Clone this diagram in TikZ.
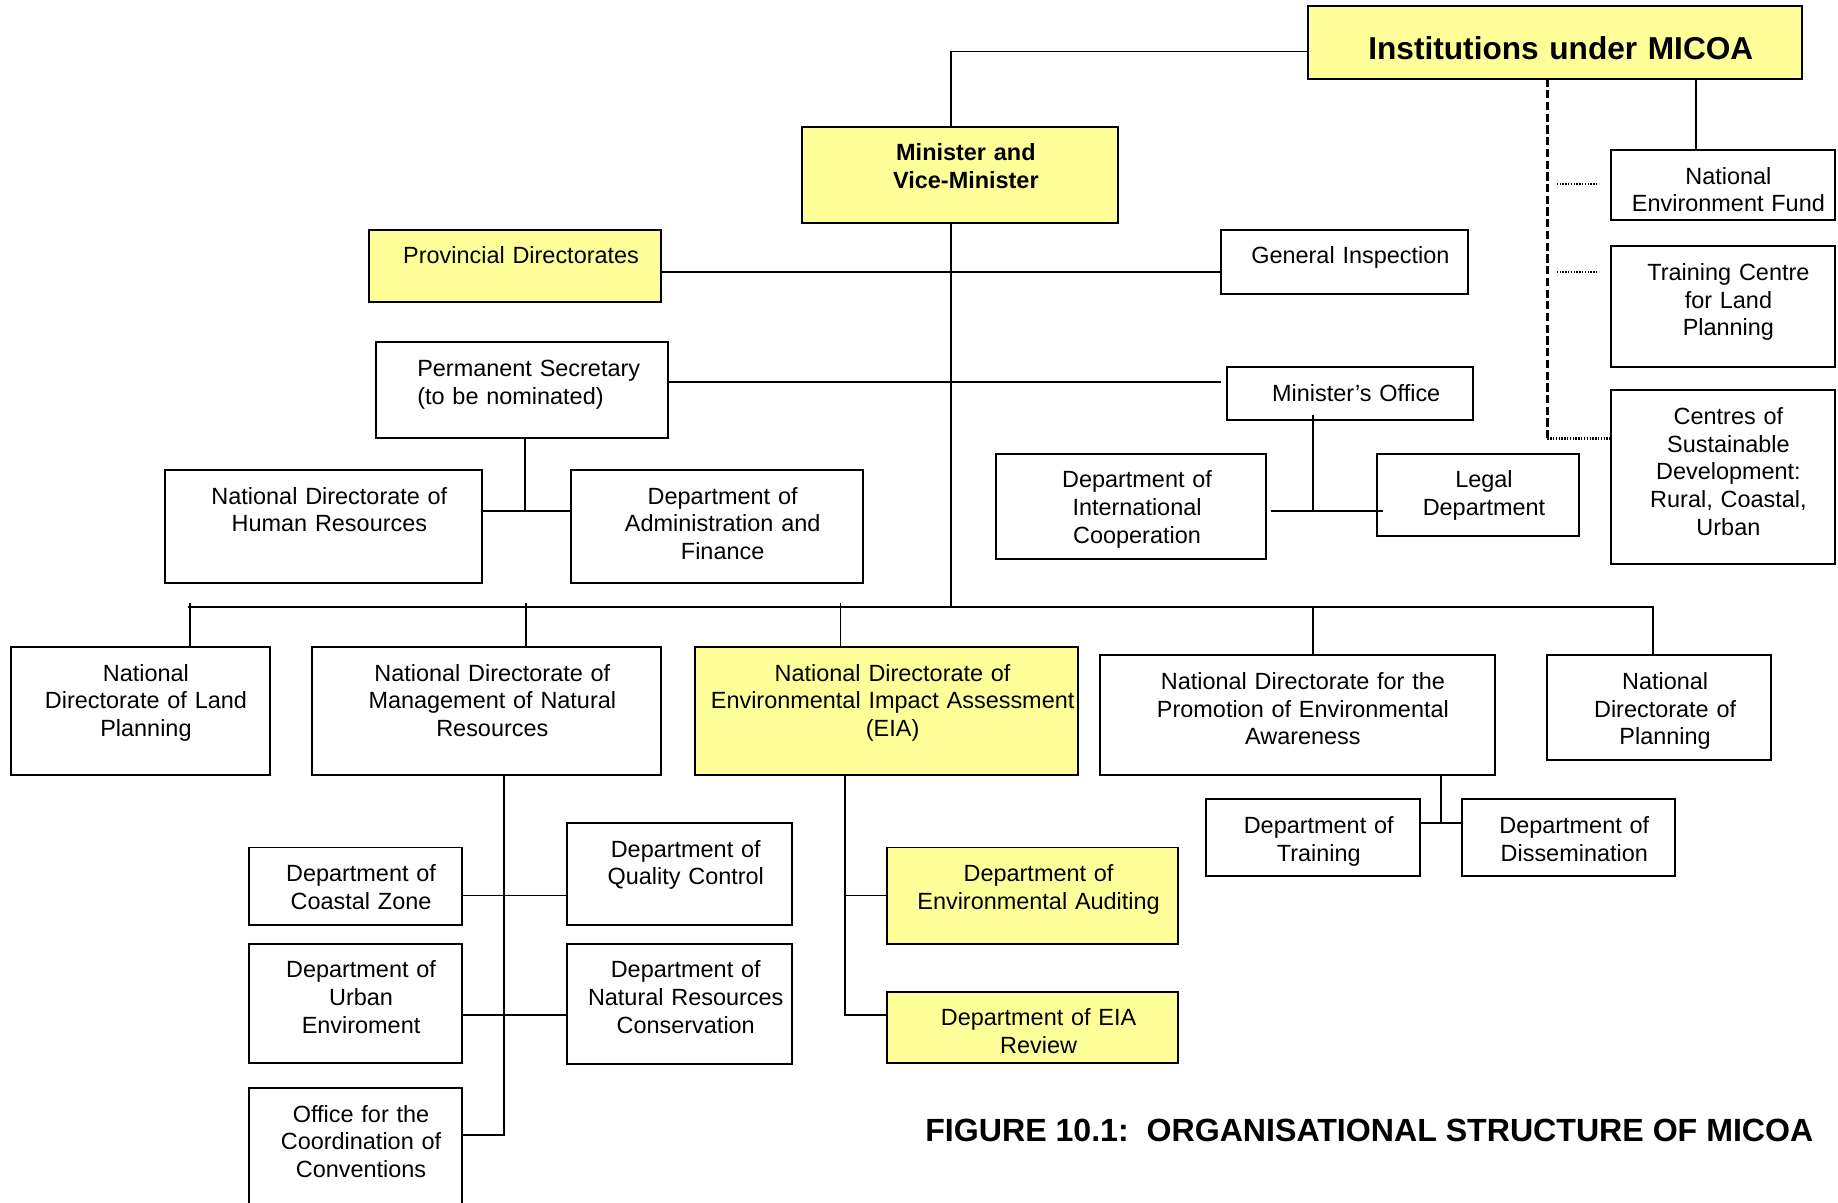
\documentclass[tikz,border=0pt]{standalone}
\usepackage{fontspec}
\setmainfont{Liberation Sans}
\usetikzlibrary{calc, positioning}
\definecolor{micoa}{RGB}{255,255,153}

\begin{document}
\begin{tikzpicture}[x=0.5pt, y=-0.5pt,
  org/.style 2 args={draw, line width=0.85pt, anchor=north west, outer sep=0pt,
    inner xsep=2pt, inner ysep=0pt, align=center,
    font=\fontsize{10}{11.8}\selectfont,
    execute at begin node={\leftskip=2.5pt plus 1fil\rightskip=-2.5pt plus 1fil},
    text width={#1*0.5pt-4pt}, text height=14.6pt, text depth={#2*0.5pt-14.6pt}},
  hl/.style={fill=micoa},
  link/.style={line width=0.75pt},
  rel/.style={line width=1.2pt, dash pattern=on 3.5pt off 1.5pt},
  weak/.style={line width=1pt, dash pattern=on 0.6pt off 0.6pt}]
\useasboundingbox (0,0) rectangle (1568,1026);

% Cupula
\node[org={421}{62}, hl, font=\fontsize{13.5}{16}\selectfont\bfseries, text height=22.8pt, text depth=8.2pt] (inst) at (1116,5) {Institutions under MICOA};
\node[org={270}{82}, hl, font=\fontsize{10}{12}\selectfont\bfseries] (min) at (684,108) {Minister and\\Vice-Minister};
\node[org={249}{62}, hl] (prov) at (315,196) {Provincial Directorates};
\node[org={210}{55}] (gen) at (1042,196) {General Inspection};
\node[org={249}{82}, align=left, execute at begin node={\leftskip=0pt\rightskip=0pt plus 1fil}] (ps) at (321,292) {\hspace*{15.5pt}Permanent Secretary\\\hspace*{15.5pt}(to be nominated)};
\node[org={210}{45}] (mo) at (1047,313) {Minister’s Office};
\node[org={270}{96}] (hr) at (141,401) {National Directorate of\\Human Resources};
\node[org={249}{96}] (daf) at (487,401) {Department of\\Administration and\\Finance};
\node[org={230}{90}] (dic) at (850,387) {Department of\\International\\Cooperation};
\node[org={172}{70}] (legal) at (1175,387) {Legal\\Department};

% Instituciones tuteladas
\node[org={191}{60}] (fund) at (1374,128) {National\\Environment Fund};
\node[org={191}{103}] (tc) at (1374,210) {Training Centre\\for Land\\Planning};
\node[org={191}{148}] (csd) at (1374,333) {Centres of\\Sustainable\\Development:\\Rural, Coastal,\\Urban};

% Direcciones nacionales
\node[org={221}{109}] (lp) at (9,552) {National\\Directorate of Land\\Planning};
\node[org={298}{109}] (mnr) at (266,552) {National Directorate of\\Management of Natural\\Resources};
\node[org={327}{109}, hl] (eia) at (593,552) {National Directorate of\\Environmental Impact Assessment\\(EIA)};
\node[org={337}{102}] (prom) at (938,559) {National Directorate for the\\Promotion of Environmental\\Awareness};
\node[org={191}{89}] (plan) at (1320,559) {National\\Directorate of\\Planning};

% Departamentos
\node[org={182}{65}] (dtr) at (1029,682) {Department of\\Training};
\node[org={182}{65}] (diss) at (1247,682) {Department of\\Dissemination};
\node[org={182}{66}] (coast) at (212,723) {Department of\\Coastal Zone};
\node[org={192}{87}] (qual) at (484,702) {Department of\\Quality Control};
\node[org={182}{102}] (urban) at (212,805) {Department of\\Urban\\Enviroment};
\node[org={192}{103}] (nrc) at (484,805) {Department of\\Natural Resources\\Conservation};
\node[org={182}{104}] (conv) at (212,928) {Office for the\\Coordination of\\Conventions};
\node[org={248}{82}, hl] (audit) at (757,723) {Department of\\Environmental Auditing};
\node[org={248}{61}, hl] (rev) at (757,846) {Department of EIA\\Review};

\node[anchor=west, inner sep=0pt, font=\fontsize{13.7}{16}\selectfont\bfseries] (caption) at (789,964) {FIGURE 10.1:\ \ ORGANISATIONAL STRUCTURE OF MICOA};

% Enlaces superiores
\coordinate (ja) at (811,44);
\coordinate (bus) at (811,518);
\draw[link] (inst.west |- ja) -- (ja) -- (ja |- min.north);
\draw[link] (ja |- min.south) -- (bus);
\coordinate (jb) at (811,232);
\draw[link] (prov.east |- jb) -- (gen.west |- jb);
\coordinate (jc) at (811,326);
\draw[link] (ps.east |- jc) -- ([xshift=-2.5pt]mo.west |- jc);
\coordinate (jd) at (448,436);
\draw[link] (ps.south -| jd) -- (jd);
\draw[link] (hr.east |- jd) -- (daf.west |- jd);
\coordinate (je) at (1120,436);
\draw[link] ([yshift=2pt]mo.south -| je) -- (je);
\draw[link] ([xshift=2pt]dic.east |- je) -- ([xshift=2.5pt]legal.west |- je);

% Instituciones
\coordinate (q1) at (1447,100);
\draw[link] (inst.south -| q1) -- (fund.north -| q1);
\coordinate (r1) at (1320,374);
\draw[rel] (inst.south -| r1) -- (r1);
\draw[weak] (r1) -- (csd.west |- r1);
\coordinate (s1) at (1328,157);
\coordinate (s2) at (1328,232);
\draw[weak] (s1) -- ([xshift=-5pt]fund.west |- s1);
\draw[weak] (s2) -- ([xshift=-5pt]tc.west |- s2);

% Barra de direcciones
\foreach \i/\x in {1/162, 2/449, 3/717, 4/1120, 5/1410}
  \coordinate (t\i) at (\x,518);
\draw[link] ([xshift=-1pt]t1) -- (t5) -- (t5 |- plan.north);
\foreach \t/\n in {t1/lp, t2/mnr, t3/eia}
  \draw[link] ([yshift=2pt]\t) -- (\t |- \n.north);
\draw[link] (t4) -- (t4 |- prom.north);

% Enlaces inferiores
\coordinate (k1) at (430,764);
\coordinate (k2) at (430,866);
\coordinate (k3) at (430,968);
\draw[link] (mnr.south -| k3) -- (k3) -- (conv.east |- k3);
\draw[link] (coast.east |- k1) -- (qual.west |- k1);
\draw[link] (urban.east |- k2) -- (nrc.west |- k2);
\coordinate (m1) at (721,764);
\coordinate (m2) at (721,866);
\draw[link] (eia.south -| m2) -- (m2) -- (rev.west |- m2);
\draw[link] (m1) -- (audit.west |- m1);
\coordinate (p1) at (1229,702);
\draw[link] (prom.south -| p1) -- (p1);
\draw[link] (dtr.east |- p1) -- (diss.west |- p1);
\end{tikzpicture}
\end{document}
